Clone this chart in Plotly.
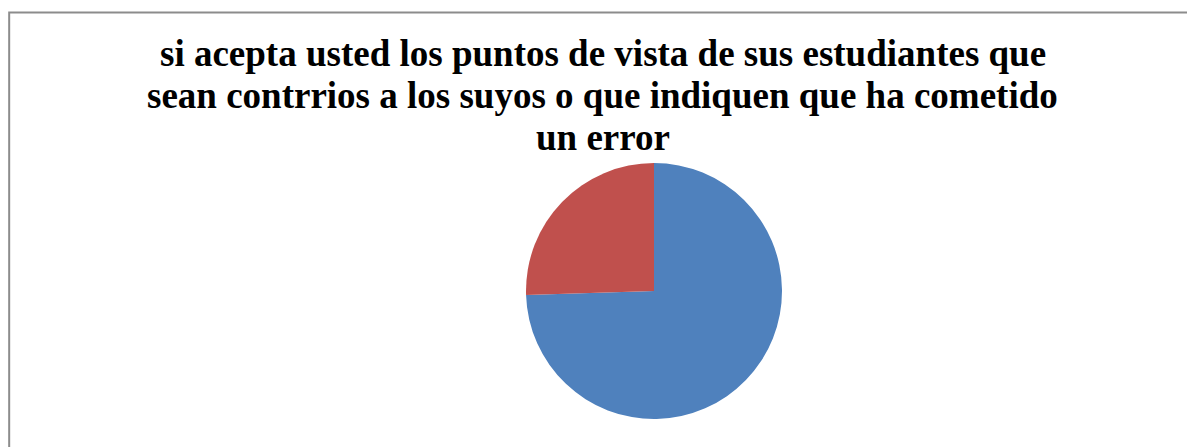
import plotly.graph_objects as go

labels = ["Sí", "No"]
values = [74.5, 25.5]
colors = ["#4F81BD", "#C0504D"]
title_lines = [
    "si acepta usted los puntos de vista de sus estudiantes que",
    "sean contrrios a los suyos o que indiquen que ha cometido",
    "un error",
]

OFF = 8  # page body margin
W, H = 1195 - OFF, 447 - OFF
cx, cy, r = 654 - OFF, 291 - OFF, 128

fig = go.Figure(go.Pie(
    labels=labels, values=values, sort=False, direction="clockwise", rotation=0,
    marker=dict(colors=colors, line=dict(width=0)),
    textinfo="none", hoverinfo="label+percent", showlegend=False,
    domain=dict(x=[(cx - r) / W, (cx + r) / W], y=[(H - cy - r) / H, (H - cy + r) / H]),
))

FS = 37
baselines = [67 - OFF, 109.5 - OFF, 151.5 - OFF]
for line, yb in zip(title_lines, baselines):
    fig.add_annotation(text="<b>" + line + "</b>", xref="paper", yref="paper",
                       x=(603 - OFF) / W, y=1 - (yb + 0.24 * FS) / H, xanchor="center", yanchor="bottom",
                       showarrow=False,
                       font=dict(family="Liberation Serif, Times New Roman, serif", size=FS, color="#000"))

fig.add_shape(type="rect", xref="paper", yref="paper",
              x0=(8 - OFF) / W + 0.001, x1=1.05, y0=-0.05, y1=1 - (12.5 - OFF) / H,
              line=dict(color="#8C8C8C", width=2), fillcolor="rgba(0,0,0,0)", layer="below")

fig.update_layout(width=W, height=H, margin=dict(l=0, r=0, t=0, b=0),
                  paper_bgcolor="white", plot_bgcolor="white")
fig.write_html("out.html")
